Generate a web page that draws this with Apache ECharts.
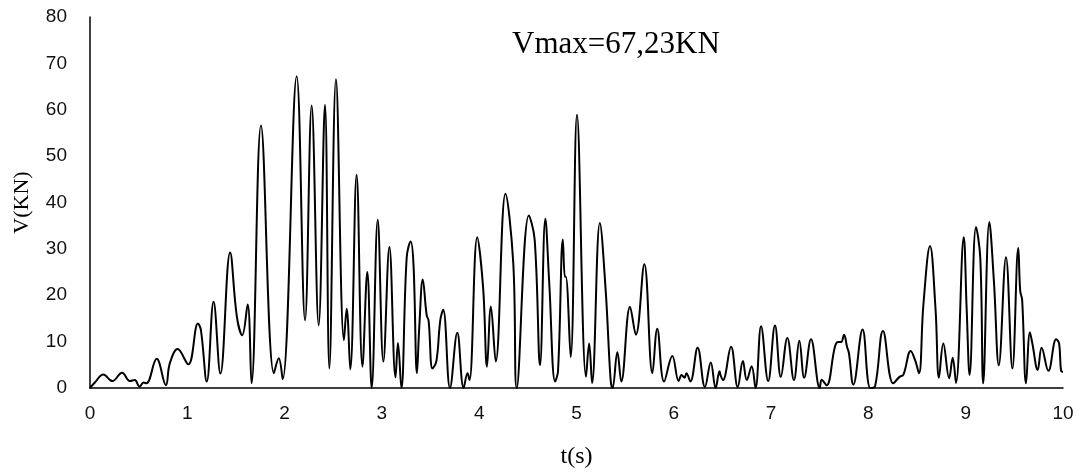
<!DOCTYPE html>
<html>
<head>
<meta charset="utf-8">
<script src="https://cdn.jsdelivr.net/npm/echarts@6/dist/echarts.min.js"></script>
<style>
  html, body { margin: 0; padding: 0; background: #fff; }
  #chart { width: 1082px; height: 474px; }
</style>
</head>
<body>
<div id="chart"></div>
<script>
// Shear force time history V(t)
const timeS = [
  0, 0.05, 0.137, 0.23, 0.33, 0.41, 0.46, 0.51, 0.55, 0.58, 0.685, 0.78, 0.82, 0.90,
  1.01, 1.11, 1.14, 1.20, 1.27, 1.34, 1.44, 1.51, 1.565, 1.62, 1.66, 1.757, 1.89, 1.94, 1.98,
  2.124, 2.21, 2.278, 2.35, 2.415, 2.46, 2.528, 2.61, 2.638, 2.675, 2.74, 2.80, 2.85, 2.895, 2.957,
  3.015, 3.077, 3.14, 3.165, 3.20, 3.255, 3.296, 3.325, 3.36, 3.385, 3.42, 3.46, 3.48, 3.52, 3.56,
  3.60, 3.63, 3.70, 3.775, 3.84, 3.88, 3.90, 3.98,
  4.04, 4.08, 4.12, 4.17, 4.27, 4.35, 4.385, 4.51, 4.57, 4.625, 4.68, 4.72, 4.78, 4.81, 4.86,
  4.88, 4.89, 4.94, 5.005, 5.098, 5.13, 5.16, 5.24, 5.30, 5.35, 5.37, 5.42, 5.46, 5.55, 5.61,
  5.697, 5.78, 5.83, 5.90, 5.985,
  6.05, 6.08, 6.11, 6.13, 6.17, 6.245, 6.32, 6.38, 6.43, 6.47, 6.48, 6.505, 6.588, 6.657, 6.71,
  6.75, 6.80, 6.84, 6.897, 6.97,
  7.04, 7.10, 7.167, 7.235, 7.29, 7.34, 7.41, 7.50, 7.52, 7.57, 7.656, 7.69, 7.72, 7.75, 7.78,
  7.80, 7.845, 7.94,
  8.02, 8.07, 8.15, 8.255, 8.32, 8.36, 8.435, 8.48, 8.52, 8.565, 8.633, 8.69, 8.725, 8.77, 8.83,
  8.866, 8.90, 8.98,
  9.01, 9.04, 9.106, 9.15, 9.18, 9.243, 9.29, 9.34, 9.414, 9.48, 9.54, 9.56, 9.58, 9.62, 9.66,
  9.685, 9.74, 9.78, 9.85, 9.93, 9.96, 9.98, 10.0
];
const shearKN = [
  0, 1.2, 2.9, 1.5, 3.3, 1.5, 1.7, 0.3, 1.2, 1.0, 6.3, 0.6, 5.3, 8.4,
  5.1, 13.9, 12.5, 1.4, 18.6, 3.1, 29.2, 15.3, 11.4, 18.0, 1.0, 56.6, 3.2, 6.4, 1.9,
  67.23, 14.6, 60.9, 13.5, 61.1, 4.2, 66.6, 10.3, 17.1, 4.0, 46.0, 4.6, 25.0, 0, 36.3,
  5.7, 30.4, 2.3, 9.7, 0, 28.2, 31.6, 26.5, 3.2, 13.5, 23.4, 15.7, 14.5, 4.2, 5.8,
  14.6, 16.9, 0, 11.9, 0, 3.2, 1.7, 32.5,
  21.7, 4.6, 17.6, 5.7, 41.9, 27, 0, 37.2, 32, 4.9, 36.5, 22.6, 1.4, 3.6, 32.0,
  24, 24, 6.7, 58.9, 2.4, 9.6, 1.1, 35.6, 21, 1.9, 0, 7.7, 1.4, 17.5, 11.5,
  26.7, 3.2, 12.8, 1.4, 6.9,
  1.5, 2.8, 2.2, 3.2, 1.4, 8.7, 0.2, 5.5, 0, 3.6, 2.8, 1.7, 8.9, 0.2, 5.8,
  1.7, 4.7, 0, 13.3, 1.5,
  13.5, 2.4, 10.8, 1.7, 10.2, 2.2, 10.5, 0, 1.8, 0.6, 8.9, 9.9, 9.9, 11.5, 8.9,
  7.5, 0.7, 12.6,
  0, 0.5, 12.3, 1.0, 2.4, 2.9, 8.0, 6, 3.2, 17.9, 30.6, 17, 2.2, 9.6, 2.1,
  6.5, 1.1, 32.5,
  17, 2.8, 34.7, 28, 1.0, 35.8, 23, 4.9, 28.2, 4.2, 30.2, 21, 19, 1.0, 12.0,
  9.6, 3.9, 8.7, 3.7, 10.5, 9.6, 3.7, 3.5
];
const yTicks = { min: 0, max: 80, step: 10 };
const xTicks = { min: 0, max: 10, step: 1 };
const peakLabel = 'Vmax=67,23KN';

const points = timeS.map((t, i) => [t, shearKN[i]]);

const chart = echarts.init(document.getElementById('chart'), null, { renderer: 'canvas' });
const tickFont = { fontFamily: 'Liberation Sans', fontSize: 19, color: '#111' };
const serifFont = 'Liberation Serif';

chart.setOption({
  animation: false,
  backgroundColor: '#fff',
  grid: { left: 90, right: 19, top: 17, bottom: 86, containLabel: false },
  xAxis: {
    type: 'value',
    min: xTicks.min, max: xTicks.max, interval: xTicks.step,
    name: 't(s)',
    nameLocation: 'middle',
    nameGap: 57,
    nameTextStyle: { fontFamily: serifFont, fontSize: 24, color: '#000' },
    axisLine: { show: true, lineStyle: { color: '#000', width: 1.5 } },
    axisTick: { show: false },
    splitLine: { show: false },
    axisLabel: Object.assign({ margin: 16 }, tickFont)
  },
  yAxis: {
    type: 'value',
    min: yTicks.min, max: yTicks.max, interval: yTicks.step,
    name: 'V(KN)',
    nameLocation: 'middle',
    nameGap: 57,
    nameRotate: 90,
    nameTextStyle: { fontFamily: serifFont, fontSize: 22, color: '#000' },
    axisLine: { show: true, lineStyle: { color: '#000', width: 1.5 } },
    axisTick: { show: false },
    splitLine: { show: false },
    axisLabel: Object.assign({ margin: 23 }, tickFont)
  },
  graphic: [{
    type: 'text',
    left: 512,
    top: 29,
    style: { text: peakLabel, font: '31px "Liberation Serif"', fill: '#000' }
  }],
  series: [{
    type: 'line',
    data: points,
    smooth: 0.4,
    showSymbol: false,
    lineStyle: { color: '#000', width: 2 }
  }]
});
</script>
</body>
</html>
